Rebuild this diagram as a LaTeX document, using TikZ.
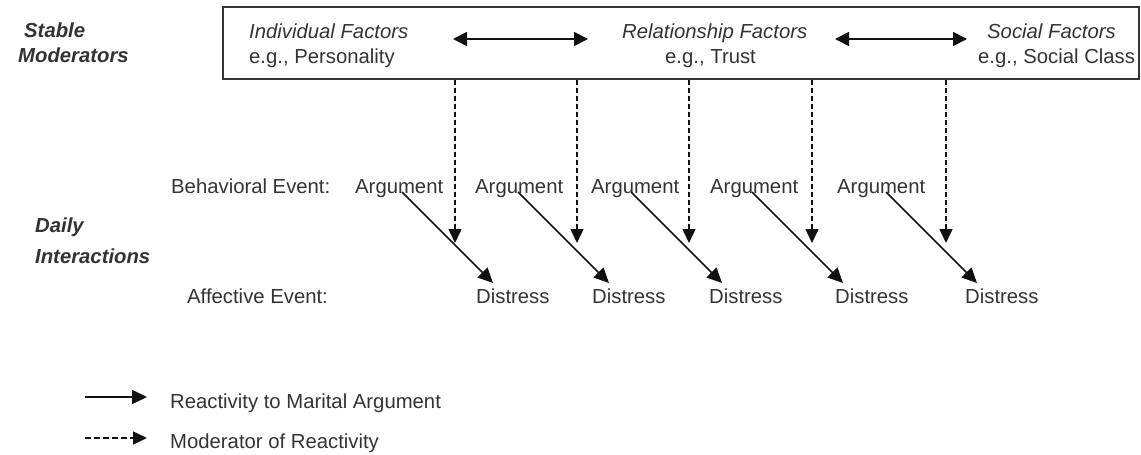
\documentclass[tikz,border=0pt]{standalone}
\usepackage{fontspec}
\setmainfont{Liberation Sans}
\usetikzlibrary{arrows.meta}
\definecolor{txt}{HTML}{333333}
\definecolor{ln}{HTML}{111111}
\begin{document}
\begin{tikzpicture}[x=1pt,y=-1pt,
  lbl/.style={anchor=base west, inner sep=0pt, text=txt, font=\fontsize{20.3}{24}\selectfont},
  it/.style={lbl, font=\fontsize{20.3}{24}\selectfont\itshape},
  bi/.style={lbl, font=\fontsize{20.3}{24}\selectfont\bfseries\itshape},
  react/.style={draw=ln, line width=1.5pt, -{Triangle[length=15pt,width=14pt]}},
  modr/.style={draw=ln, line width=1.5pt, dash pattern=on 5pt off 3pt, -{Triangle[length=14pt,width=13pt]}},
  both/.style={draw=ln, line width=1.7pt, {Triangle[length=14pt,width=14pt]}-{Triangle[length=14pt,width=14pt]}}]
\useasboundingbox (0,0) rectangle (1141,455);
\node[draw=txt, line width=1.8pt, minimum width=916pt, minimum height=72pt, inner sep=0pt] (box) at (681,43) {};
% left labels
\node[bi] (stable) at (24,37) {Stable};
\node[bi] (moder) at (18,62) {Moderators};
\node[bi] (daily) at (35,232) {Daily};
\node[bi] (inter) at (35,263) {Interactions};
% box contents
\node[it] (indf) at (249,38) {Individual Factors};
\node[lbl] (indx) at (249,63) {e.g., Personality};
\node[it] (relf) at (622,38) {Relationship Factors};
\node[lbl] (relx) at (665,63) {e.g., Trust};
\node[it] (socf) at (987,38) {Social Factors};
\node[lbl] (socx) at (978,63) {e.g., Social Class};
\coordinate (da1) at (453,39); \coordinate (db1) at (588,39);
\coordinate (da2) at (835,39); \coordinate (db2) at (967,39);
\draw[both] (da1) -- (db1);
\draw[both] (da2) -- (db2);
% rows
\node[lbl] (beh) at (171,193) {Behavioral Event:};
\node[lbl] (aff) at (187,303) {Affective Event:};
\foreach \i/\ax/\dx/\sx/\mx in {1/355/476/402/455, 2/475/592/518/577, 3/591/709/631/689, 4/710/835/752/812, 5/837/965/886/946}{
  \node[lbl] (a\i) at (\ax,193) {Argument};
  \node[lbl] (d\i) at (\dx,303) {Distress};
  \coordinate (s\i) at (\sx,192);
  \coordinate (e\i) at (\sx+91,283);
  \coordinate (m\i) at (\mx,243);
  \draw[react] (s\i) -- (e\i);
  \draw[modr] (box.south -| m\i) -- (m\i);
}
% legend
\coordinate (l1a) at (85,397); \coordinate (l1b) at (147,397);
\coordinate (l2a) at (85,438); \coordinate (l2b) at (147,438);
\draw[react] (l1a) -- (l1b);
\draw[modr, dash pattern=on 6pt off 3pt] (l2a) -- (l2b);
\node[lbl] (leg1) at (170,408) {Reactivity to Marital Argument};
\node[lbl] (leg2) at (170,448) {Moderator of Reactivity};
\end{tikzpicture}
\end{document}
